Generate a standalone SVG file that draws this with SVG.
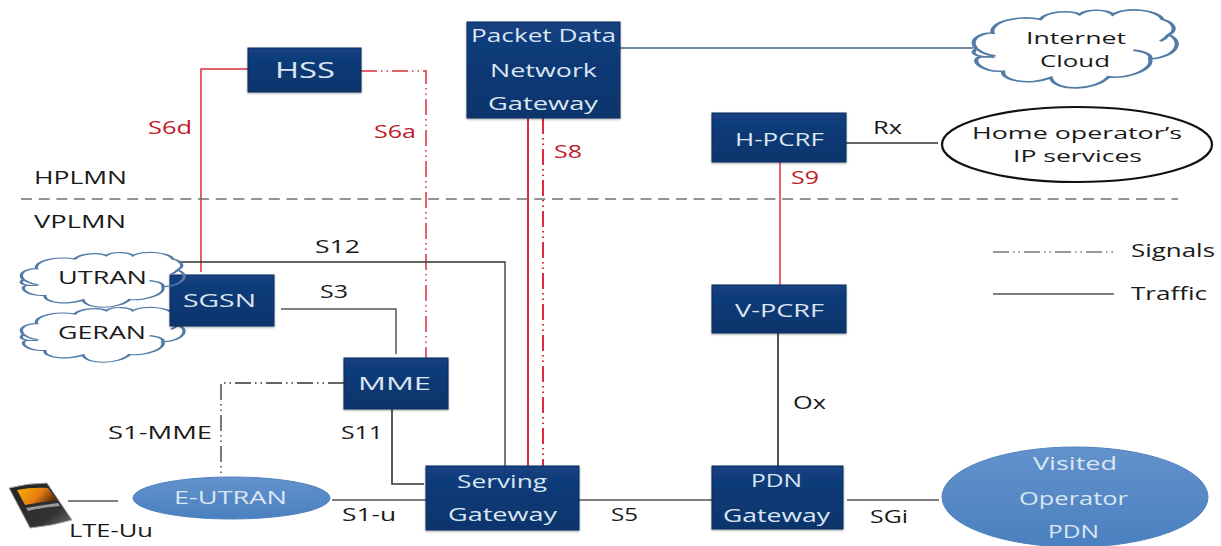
<svg xmlns="http://www.w3.org/2000/svg" width="1221" height="546" viewBox="0 0 1221 546">
<style>
text{font-family:"Open Sans","DejaVu Sans",sans-serif;font-size:18px;fill:#1a1a1a}
.t{font-size:17px}
.w{fill:#dbe6f2;font-size:19px}
.h{font-size:21px}
.r{fill:#c01a28}
.box{fill:url(#navy);stroke:#0d2f5e;stroke-width:1;filter:url(#sh)}
.oval{fill:url(#blue);stroke:#4f81bd;stroke-width:1}
.cl{fill:#fff;stroke:#527ba6;stroke-width:2;vector-effect:non-scaling-stroke}
.k{fill:none;stroke:#333;stroke-width:1.3}
.g{fill:none;stroke:#555;stroke-width:1.5}
.red{fill:none;stroke:#d8303f;stroke-width:1.5}
.sig{stroke-dasharray:16 4 1.5 4 1.5 4}
</style>
<defs>
<linearGradient id="navy" x1="0" y1="0" x2="0" y2="1"><stop offset="0" stop-color="#134080"/><stop offset="0.5" stop-color="#0e3873"/><stop offset="1" stop-color="#0d356c"/></linearGradient>
<linearGradient id="blue" x1="0" y1="0" x2="0" y2="1"><stop offset="0" stop-color="#6392cc"/><stop offset="1" stop-color="#4a80c0"/></linearGradient>
<linearGradient id="screen" x1="0" y1="0" x2="1" y2="0.4"><stop offset="0" stop-color="#f4b400"/><stop offset="0.6" stop-color="#e87d12"/><stop offset="1" stop-color="#6a3408"/></linearGradient>
<linearGradient id="body" x1="0" y1="0" x2="1" y2="1"><stop offset="0" stop-color="#222"/><stop offset="0.7" stop-color="#333"/><stop offset="1" stop-color="#777"/></linearGradient>
<filter id="sh" x="-5%" y="-5%" width="110%" height="115%"><feDropShadow dx="0" dy="1" stdDeviation="1" flood-color="#000" flood-opacity="0.35"/></filter>
<path id="cloud" d="M2,50 C-2,38 5,30 10,31 C8,18 22,8 33,14 C36,4 48,2 52,8 C56,0 66,2 68,8 C74,-2 90,2 92,14 C98,18 99,28 95,33 C102,40 100,60 86,63 C88,75 76,88 66,85 C60,102 40,104 38,86 C28,96 14,90 15,78 C4,80 -2,62 5,60 C0,58 0,54 2,50 Z M5,60 C8,60 10,60 11,61 M2,50 C6,58 10,59 11,58 M78,52 C84,54 87,58 86,63 M95,33 C94,36 92,40 91,41"/>
</defs>
<g id="connectors">
<path class="red" d="M248 69H201V272"/>
<path class="red sig" d="M361 71H426V358"/>
<path class="red" style="stroke-width:2" d="M528 118V466"/>
<path class="red sig" style="stroke-width:2" d="M543 118V466"/>
<path class="red" d="M780 162V285"/>
<path class="g" style="stroke:#44607f" d="M620 48H973"/>
<path class="k" d="M846 143H938"/>
<path class="k" d="M178 262H505V466"/>
<path class="g" d="M281 309H396V354"/>
<path class="k sig" d="M344 383H221V477"/>
<path class="k" style="stroke-width:1.6" d="M392 409V484H424"/>
<path class="g" d="M332 500H426"/>
<path class="g" d="M579 500H712"/>
<path class="g" d="M847 500H939"/>
<path class="g" d="M68 501H118"/>
<path class="g" style="stroke-width:2" d="M778 333V466"/>
<path d="M21 199H1178" fill="none" stroke="#707070" stroke-width="1.4" stroke-dasharray="11 6.700"/>
<path class="k sig" style="stroke-width:1.2" d="M993 252H1113"/>
<path class="g" d="M993 294H1114"/>
</g>
<g id="hss"><rect class="box" x="248" y="48" width="113" height="44"/><text class="w h" x="275" y="78" textLength="60" lengthAdjust="spacingAndGlyphs">HSS</text></g>
<g id="pdn-network-gateway"><rect class="box" x="467" y="22" width="153" height="96"/>
<text class="w" x="471" y="42" textLength="145" lengthAdjust="spacingAndGlyphs">Packet Data</text>
<text class="w" x="490" y="77" textLength="107" lengthAdjust="spacingAndGlyphs">Network</text>
<text class="w" x="488" y="110" textLength="110" lengthAdjust="spacingAndGlyphs">Gateway</text></g>
<g id="internet-cloud"><use href="#cloud" class="cl" transform="translate(972 8) scale(2.07 .81)"/>
<text class="t" x="1026" y="44" textLength="100" lengthAdjust="spacingAndGlyphs">Internet</text>
<text class="t" x="1040" y="67" textLength="70" lengthAdjust="spacingAndGlyphs">Cloud</text></g>
<g id="h-pcrf"><rect class="box" x="712" y="113" width="134" height="49"/><text class="w" x="735" y="146" textLength="89" lengthAdjust="spacingAndGlyphs">H-PCRF</text></g>
<g id="home-ip"><ellipse cx="1077" cy="144.500" rx="135" ry="37.500" fill="#fff" stroke="#111" stroke-width="2.200"/>
<text class="t" x="972" y="139" textLength="210" lengthAdjust="spacingAndGlyphs">Home operator’s</text>
<text class="t" x="1013" y="162" textLength="129" lengthAdjust="spacingAndGlyphs">IP services</text></g>
<g id="v-pcrf"><rect class="box" x="712" y="285" width="134" height="48"/><text class="w" x="735" y="317" textLength="89" lengthAdjust="spacingAndGlyphs">V-PCRF</text></g>
<g id="geran"><use href="#cloud" class="cl" transform="translate(20 306) scale(1.66 .57)"/><text x="58" y="339" textLength="88" lengthAdjust="spacingAndGlyphs">GERAN</text></g>
<g id="sgsn"><rect class="box" x="170" y="275" width="104" height="51"/></g>
<g id="utran"><use href="#cloud" class="cl" style="fill:none" transform="translate(20 251) scale(1.66 .57)"/><text x="58" y="284" textLength="89" lengthAdjust="spacingAndGlyphs">UTRAN</text></g>
<text class="w" x="183" y="307" textLength="73" lengthAdjust="spacingAndGlyphs">SGSN</text>
<g id="mme"><rect class="box" x="344" y="358" width="104" height="51"/><text class="w" x="358" y="390" textLength="73" lengthAdjust="spacingAndGlyphs">MME</text></g>
<g id="serving-gateway"><rect class="box" x="426" y="466" width="153" height="64"/>
<text class="w" x="457" y="488" textLength="90" lengthAdjust="spacingAndGlyphs">Serving</text>
<text class="w" x="448" y="521" textLength="109" lengthAdjust="spacingAndGlyphs">Gateway</text></g>
<g id="pdn-gateway"><rect class="box" x="712" y="466" width="131" height="63"/>
<text class="w" x="751" y="487" textLength="51" lengthAdjust="spacingAndGlyphs">PDN</text>
<text class="w" x="723" y="522" textLength="107" lengthAdjust="spacingAndGlyphs">Gateway</text></g>
<g id="visited-pdn"><ellipse class="oval" cx="1075" cy="497" rx="133" ry="50"/>
<text class="w" x="1033" y="470" textLength="84" lengthAdjust="spacingAndGlyphs">Visited</text>
<text class="w" x="1019" y="505" textLength="109" lengthAdjust="spacingAndGlyphs">Operator</text>
<text class="w" x="1048" y="538" textLength="51" lengthAdjust="spacingAndGlyphs">PDN</text></g>
<g id="e-utran"><ellipse class="oval" cx="231.500" cy="498" rx="98.500" ry="21"/><text class="w" x="174" y="504" textLength="113" lengthAdjust="spacingAndGlyphs">E-UTRAN</text></g>
<g id="ue">
<path d="M9 488 Q28 483 47 483 L72 520 Q52 526 30 528 Z" fill="url(#body)" stroke="#aaa" stroke-width="1"/>
<path d="M17 490 Q32 487 48 488 L57 500 Q40 502 25 505 Z" fill="url(#screen)"/>
<path d="M26 508 Q42 505 58 503 L60 506 Q44 507 28 511 Z" fill="#999"/>
</g>
<g id="labels">
<text x="69" y="537" textLength="84" lengthAdjust="spacingAndGlyphs">LTE-Uu</text>
<text x="108" y="439" textLength="104" lengthAdjust="spacingAndGlyphs">S1-MME</text>
<text x="342" y="521" textLength="54" lengthAdjust="spacingAndGlyphs">S1-u</text>
<text x="341" y="439" textLength="42" lengthAdjust="spacingAndGlyphs">S11</text>
<text x="611" y="521" textLength="27" lengthAdjust="spacingAndGlyphs">S5</text>
<text x="870" y="523" textLength="38" lengthAdjust="spacingAndGlyphs">SGi</text>
<text x="793" y="409" textLength="33" lengthAdjust="spacingAndGlyphs">Ox</text>
<text x="320" y="298" textLength="28" lengthAdjust="spacingAndGlyphs">S3</text>
<text x="315" y="253" textLength="45" lengthAdjust="spacingAndGlyphs">S12</text>
<text class="r" x="148" y="134" textLength="44" lengthAdjust="spacingAndGlyphs">S6d</text>
<text class="r" x="374" y="138" textLength="42" lengthAdjust="spacingAndGlyphs">S6a</text>
<text class="r" x="554" y="158" textLength="28" lengthAdjust="spacingAndGlyphs">S8</text>
<text class="r" x="791" y="184" textLength="28" lengthAdjust="spacingAndGlyphs">S9</text>
<text x="873" y="134" textLength="29" lengthAdjust="spacingAndGlyphs">Rx</text>
<text x="34" y="184" textLength="93" lengthAdjust="spacingAndGlyphs">HPLMN</text>
<text x="34" y="228" textLength="92" lengthAdjust="spacingAndGlyphs">VPLMN</text>
<text x="1131" y="257" textLength="84" lengthAdjust="spacingAndGlyphs">Signals</text>
<text x="1131" y="300" textLength="76" lengthAdjust="spacingAndGlyphs">Traffic</text>
</g>
</svg>
